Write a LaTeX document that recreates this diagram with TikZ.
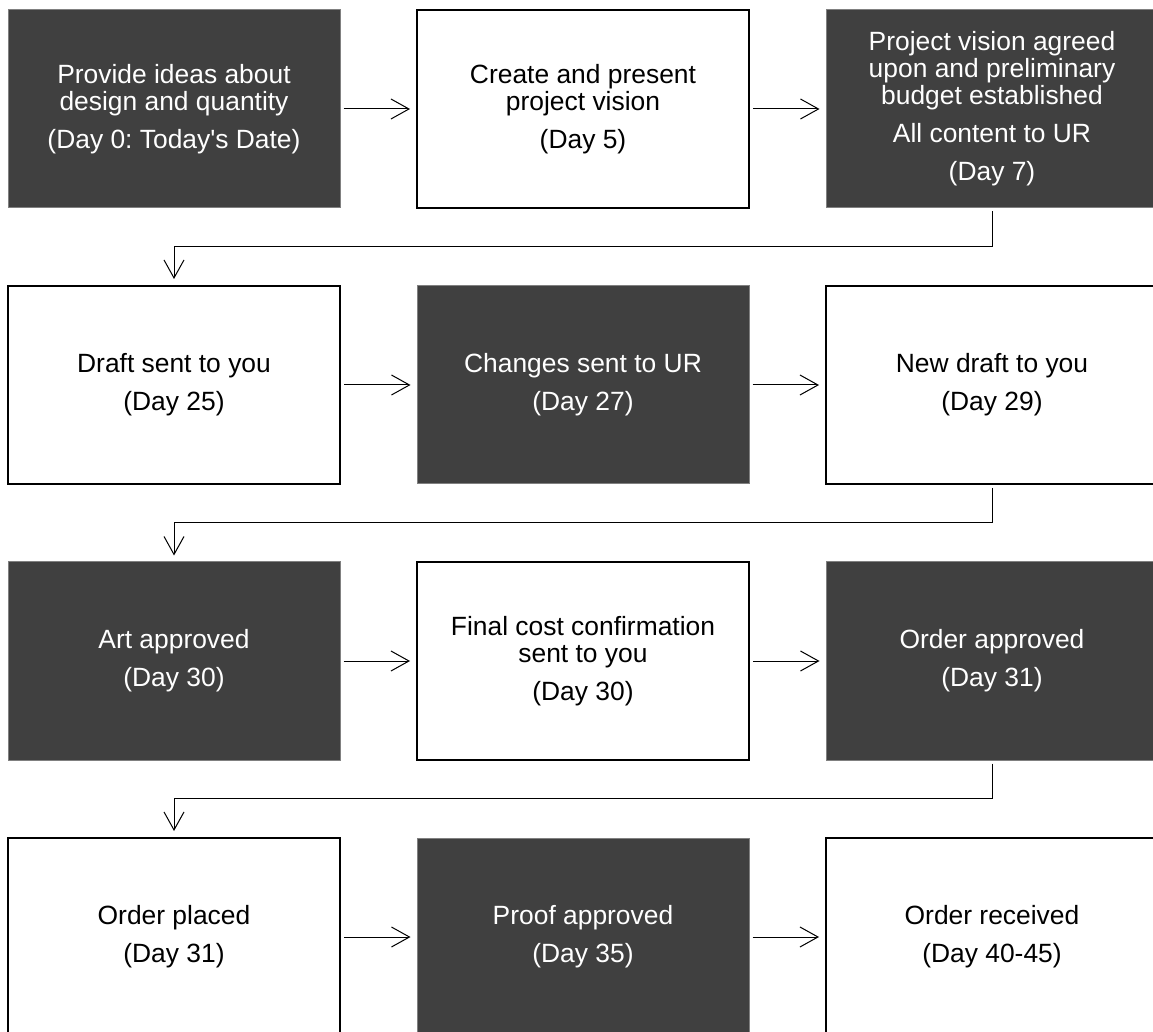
\documentclass[tikz,border=0pt]{standalone}
\usepackage{fontspec}
\setmainfont{Liberation Sans}[Ligatures=TeXOff]
\usepackage{xcolor}
\usetikzlibrary{arrows.meta,positioning}
\definecolor{boxgray}{RGB}{64,64,64}
\frenchspacing
\tikzset{every node/.append style={font=\fontsize{13.2}{13.5}\selectfont, align=center}}
\tikzset{
  darkbox/.style={fill=boxgray, draw=gray, line width=0.5pt, text=white, minimum width=166pt, minimum height=99pt, inner sep=0pt},
  lightbox/.style={fill=white, draw=black, line width=1pt, minimum width=166pt, minimum height=99pt, inner sep=0pt},
  flow/.style={-{Straight Barb[length=9pt,width=10pt]}, line width=0.5pt, shorten <=1.5pt, shorten >=3pt}
}

\begin{document}
\begin{tikzpicture}[x=0.5pt,y=-0.5pt]
    \useasboundingbox (0,0) rectangle (1153,1032);
    \clip (0,0) rectangle (1153,1032);

    \node[darkbox] at (174,109) (ideas) {Provide ideas about\\design and quantity\\[5.5pt](Day 0: Today's Date)};
    \node[lightbox] at (583,109) (vision) {Create and present\\project vision\\[5.5pt](Day 5)};
    \node[darkbox] at (992,109) (budget) {Project vision agreed\\upon and preliminary\\budget established\\[5.5pt]All content to UR\\[5.5pt](Day 7)};

    \node[lightbox] at (174,385) (draft) {Draft sent to you\\[5.5pt](Day 25)};
    \node[darkbox] at (583,385) (changes) {Changes sent to UR\\[5.5pt](Day 27)};
    \node[lightbox] at (992,385) (newdraft) {New draft to you\\[5.5pt](Day 29)};

    \node[darkbox] at (174,661) (art) {Art approved\\[5.5pt](Day 30)};
    \node[lightbox] at (583,661) (cost) {Final cost confirmation\\sent to you\\[5.5pt](Day 30)};
    \node[darkbox] at (992,661) (approved) {Order approved\\[5.5pt](Day 31)};

    \node[lightbox] at (174,937) (placed) {Order placed\\[5.5pt](Day 31)};
    \node[darkbox] at (583,937) (proof) {Proof approved\\[5.5pt](Day 35)};
    \node[lightbox] at (992,937) (received) {Order received\\[5.5pt](Day 40-45)};

    \draw[flow] (ideas)-- (vision);
    \draw[flow] (vision)-- (budget);
    \draw[flow] (budget.south)-- ++(0,38) -| (draft.north);

    \draw[flow] (draft)-- (changes);
    \draw[flow] (changes)-- (newdraft);
    \draw[flow] (newdraft.south)-- ++(0,38) -| (art.north);

    \draw[flow] (art)-- (cost);
    \draw[flow] (cost)-- (approved);
    \draw[flow] (approved.south)-- ++(0,38) -| (placed.north);

    \draw[flow] (placed)-- (proof);
    \draw[flow] (proof)-- (received);
\end{tikzpicture}
\end{document}
